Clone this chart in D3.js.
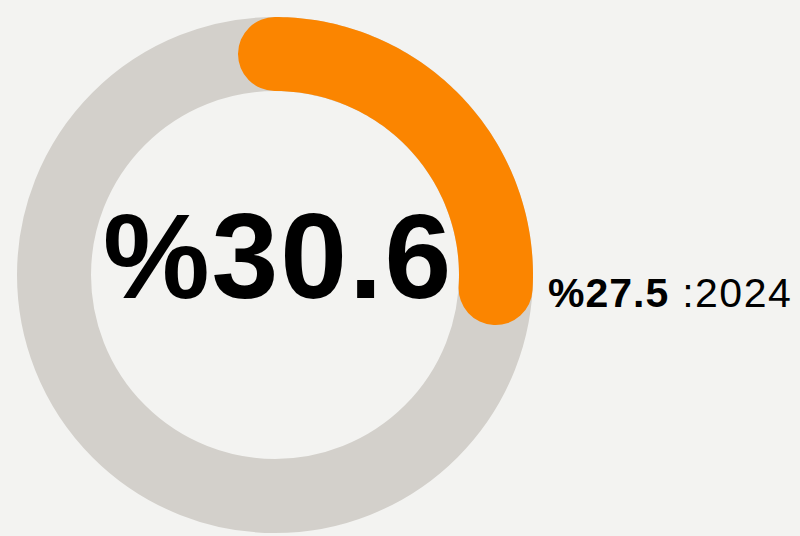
<!DOCTYPE html>
<html lang="en">
<head>
<meta charset="UTF-8">
<title>Donut</title>
<script src="https://d3js.org/d3.v7.min.js"></script>
<style>
  html, body { margin: 0; padding: 0; background: #f3f3f1; }
  svg { display: block; }
</style>
</head>
<body>
<div id="chart"></div>
<script>
// values
var currentValue = [30.6];
var previousValue = [27.5];
var previousYear = ["2024"];
var ringMax = [106];   // value that fills the whole ring

var width = 800, height = 536;
var cx = 275, cy = 275;
var midR = 221, thick = 74;

var svg = d3.select("#chart").append("svg")
    .attr("width", width)
    .attr("height", height);

svg.append("rect").attr("width", width).attr("height", height).attr("fill", "#f3f3f1");

var g = svg.append("g").attr("transform", "translate(" + cx + "," + cy + ")");

var angle = d3.scaleLinear().domain([0, ringMax[0]]).range([0, 2 * Math.PI]);

// background ring
g.append("circle")
    .attr("r", midR)
    .attr("fill", "none")
    .attr("stroke", "#d3d0cb")
    .attr("stroke-width", thick);

// orange arc, drawn as a stroke so the ends get round caps
var arcLine = d3.lineRadial()
    .angle(function(d) { return d; })
    .radius(midR)
    .curve(d3.curveLinear);

var steps = d3.range(0, 101).map(function(i) { return angle(previousValue[0]) * i / 100; });

g.append("path")
    .datum(steps)
    .attr("d", arcLine)
    .attr("fill", "none")
    .attr("stroke", "#fb8500")
    .attr("stroke-width", thick)
    .attr("stroke-linecap", "round");

// centre number
g.append("text")
    .attr("x", 3)
    .attr("y", 23)
    .attr("text-anchor", "middle")
    .style("font-family", "'Liberation Sans', Arial, sans-serif")
    .style("font-weight", "bold")
    .style("font-size", "120px")
    .style("letter-spacing", "2px")
    .attr("fill", "#000")
    .text("%" + currentValue[0].toFixed(1));

// label at the end of the arc
var lbl = svg.append("text")
    .attr("x", 548)
    .attr("y", 307)
    .style("font-family", "'Liberation Sans', Arial, sans-serif")
    .style("font-size", "41px")
    .attr("fill", "#000");
lbl.append("tspan").style("font-weight", "bold").style("letter-spacing", "1px")
    .text("%" + previousValue[0].toFixed(1));
lbl.append("tspan").style("letter-spacing", "1.5px").text(" :" + previousYear[0]);
</script>
</body>
</html>
